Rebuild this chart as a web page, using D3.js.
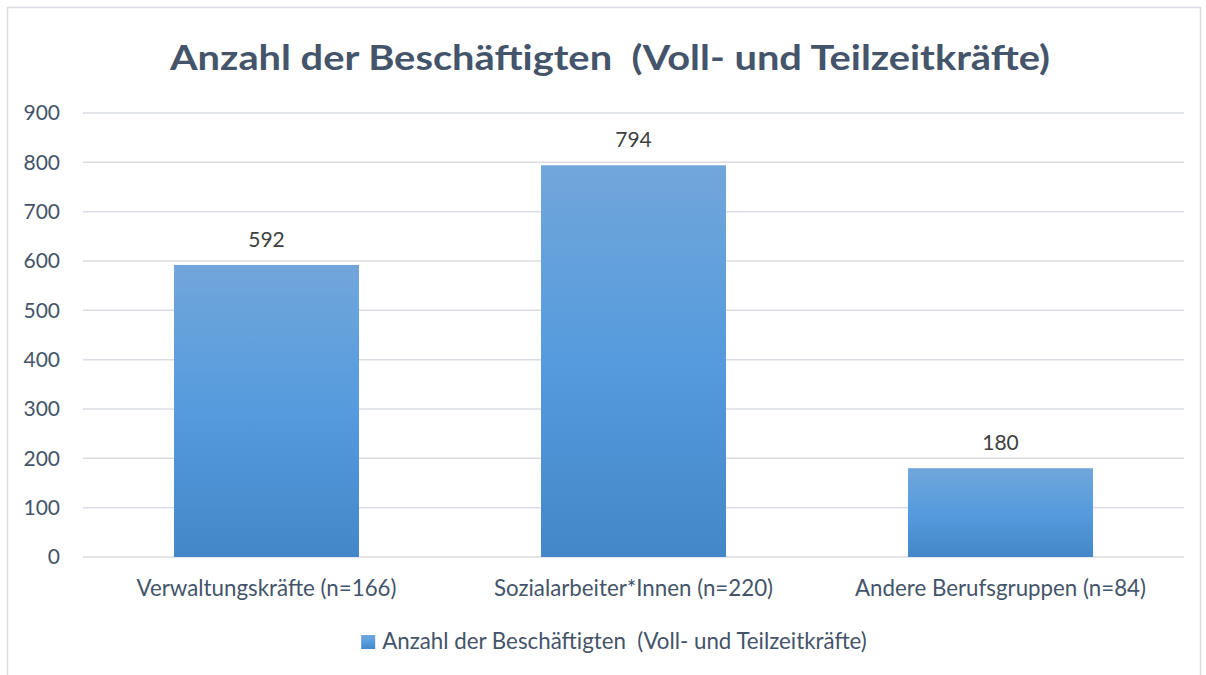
<!DOCTYPE html>
<html><head><meta charset="utf-8">
<script src="https://cdn.jsdelivr.net/npm/d3@7"></script>
<style>body{margin:0;background:#fff}svg{display:block}text{white-space:pre}</style>
</head><body><svg id="c" width="1206" height="675"></svg>
<script>
const categories = ["Verwaltungskräfte (n=166)", "Sozialarbeiter*Innen (n=220)", "Andere Berufsgruppen (n=84)"];
const values = [592, 794, 180];
const yTicks = [0,100,200,300,400,500,600,700,800,900];
const title = "Anzahl der Beschäftigten  (Voll- und Teilzeitkräfte)";
const seriesName = "Anzahl der Beschäftigten  (Voll- und Teilzeitkräfte)";

(function(){
const svg = d3.select("#c");
const font = "Lato, 'Open Sans', sans-serif";
const textCol = "#44546a";
svg.append("rect").attr("x",7.5).attr("y",7.5).attr("width",1193).attr("height",680)
  .attr("fill","#fff").attr("stroke","#d9dde3").attr("stroke-width",1.5);

const defs = svg.append("defs");
const g = defs.append("linearGradient").attr("id","bg").attr("x1",0).attr("y1",0).attr("x2",0).attr("y2",1);
g.append("stop").attr("offset","0%").attr("stop-color","#71a6db");
g.append("stop").attr("offset","50%").attr("stop-color","#559bdd");
g.append("stop").attr("offset","100%").attr("stop-color","#4387c8");

const pL=83, pR=1184, pT=113, pB=557;
const x = d3.scaleBand().domain(categories).range([pL,pR]).paddingInner(0.496).paddingOuter(0.248);
const y = d3.scaleLinear().domain([0,900]).range([pB,pT]);

svg.append("text").attr("x",610).attr("y",70).attr("text-anchor","middle")
  .attr("font-family",font).attr("font-weight",700).attr("font-size",34).attr("fill",textCol)
  .attr("textLength",880).attr("lengthAdjust","spacingAndGlyphs").text(title);

svg.append("g").selectAll("line").data(yTicks).join("line")
  .attr("x1",pL).attr("x2",pR).attr("y1",d=>y(d)).attr("y2",d=>y(d))
  .attr("stroke","#d9dde3").attr("stroke-width",1.5);

const ya = svg.append("g").attr("transform",`translate(${pL},0)`)
  .call(d3.axisLeft(y).tickValues(yTicks).tickSize(0).tickPadding(23));
ya.select(".domain").remove();
ya.selectAll("text").attr("font-family",font).attr("font-size",21).attr("fill",textCol);

svg.append("g").selectAll("rect").data(values).join("rect")
  .attr("x",(d,i)=>x(categories[i])).attr("width",x.bandwidth())
  .attr("y",d=>y(d)).attr("height",d=>y(0)-y(d)).attr("fill","url(#bg)");

svg.append("g").selectAll("text").data(values).join("text")
  .attr("x",(d,i)=>x(categories[i])+x.bandwidth()/2).attr("y",d=>y(d)-18)
  .attr("text-anchor","middle").attr("font-family",font).attr("font-size",21).attr("fill","#404040").text(d=>d);

const xa = svg.append("g").attr("transform",`translate(0,${pB})`)
  .call(d3.axisBottom(x).tickSize(0).tickPadding(23));
xa.select(".domain").remove();
xa.selectAll("text").attr("font-family",font).attr("font-size",22.3).attr("fill",textCol);

const lg = svg.append("g");
const lt = lg.append("text").attr("x",21).attr("y",14).attr("font-family",font).attr("font-size",22.3).attr("fill",textCol).text(seriesName);
lg.insert("rect","text").attr("x",0).attr("y",0).attr("width",14).attr("height",14).attr("fill","url(#bg)");
const w = 21 + lt.node().getComputedTextLength();
lg.attr("transform",`translate(${614 - w/2},635)`);
})();
</script></body></html>
